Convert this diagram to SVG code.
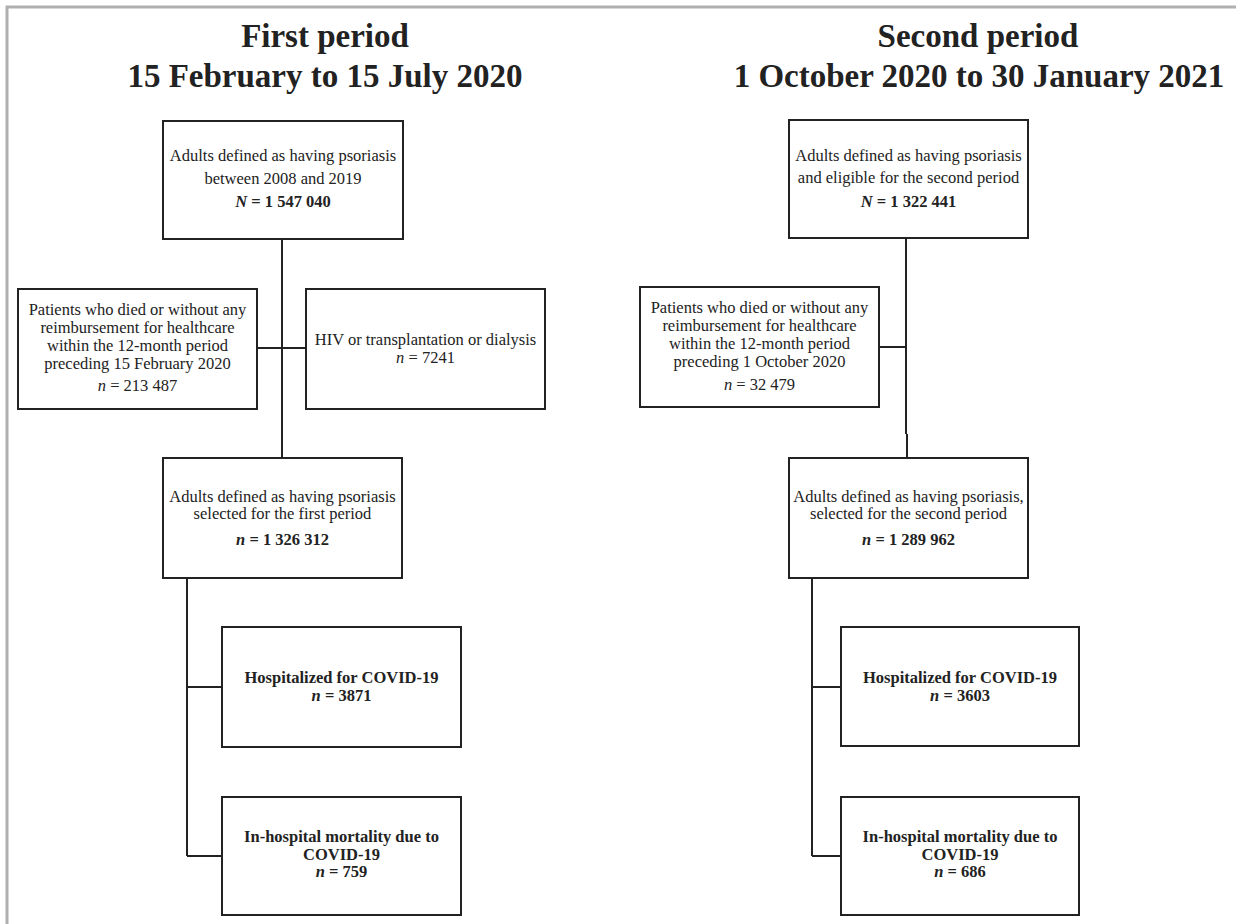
<svg xmlns="http://www.w3.org/2000/svg" width="1236" height="924" viewBox="0 0 1236 924">
<style>
.box{fill:#fff;stroke:#222;stroke-width:2}
.t{font-family:"Liberation Serif","Times New Roman",serif;font-size:16.5px;fill:#222;text-anchor:middle}
.b{font-weight:bold}
.i{font-style:italic}
.title{font-family:"Liberation Serif","Times New Roman",serif;font-size:33px;font-weight:bold;fill:#222;text-anchor:middle}
.conn{fill:none;stroke:#222;stroke-width:2}
.frame{fill:none;stroke:#b0b0b0;stroke-width:3}
</style>
<rect width="1236" height="924" fill="#fff"/>
<path class="frame" d="M7,924 V7 H1236"/>
<g id="titles">
<text class="title" x="325" y="47">First period</text>
<text class="title" x="325" y="87">15 February to 15 July 2020</text>
<text class="title" x="978" y="47">Second period</text>
<text class="title" x="979" y="87">1 October 2020 to 30 January 2021</text>
</g>
<g id="connectors">
<path class="conn" d="M282,239 V458 M257,348 H306"/>
<path class="conn" d="M187,578 V856 M187,687 H222 M187,856 H222"/>
<path class="conn" d="M906,238 V434 M907,434 V458 M879,347 H906"/>
<path class="conn" d="M812,578 V856 M812,687 H841 M812,856 H841"/>
</g>
<g id="n1">
<rect class="box" x="163" y="121" width="240" height="118"/>
<text class="t" x="283" y="161">Adults defined as having psoriasis</text>
<text class="t" x="283" y="184">between 2008 and 2019</text>
<text class="t b" x="283" y="207"><tspan class="i">N</tspan> = 1 547 040</text>
</g>
<g id="n2">
<rect class="box" x="18" y="289" width="239" height="120"/>
<text class="t" x="137.5" y="315">Patients who died or without any</text>
<text class="t" x="137.5" y="333">reimbursement for healthcare</text>
<text class="t" x="137.5" y="351">within the 12-month period</text>
<text class="t" x="137.5" y="369">preceding 15 February 2020</text>
<text class="t" x="137.5" y="391"><tspan class="i">n</tspan> = 213 487</text>
</g>
<g id="n3">
<rect class="box" x="306" y="289" width="239" height="120"/>
<text class="t" x="425.5" y="345">HIV or transplantation or dialysis</text>
<text class="t" x="425.5" y="363"><tspan class="i">n</tspan> = 7241</text>
</g>
<g id="n4">
<rect class="box" x="163" y="458" width="239" height="120"/>
<text class="t" x="282.5" y="502">Adults defined as having psoriasis</text>
<text class="t" x="282.5" y="519">selected for the first period</text>
<text class="t b" x="282.5" y="545"><tspan class="i">n</tspan> = 1 326 312</text>
</g>
<g id="n5">
<rect class="box" x="222" y="627" width="239" height="120"/>
<text class="t b" x="341.5" y="683">Hospitalized for COVID-19</text>
<text class="t b" x="341.5" y="701"><tspan class="i">n</tspan> = 3871</text>
</g>
<g id="n6">
<rect class="box" x="222" y="797" width="239" height="118"/>
<text class="t b" x="341.5" y="842">In-hospital mortality due to</text>
<text class="t b" x="341.5" y="860">COVID-19</text>
<text class="t b" x="341.5" y="877"><tspan class="i">n</tspan> = 759</text>
</g>
<g id="m1">
<rect class="box" x="789" y="120" width="239" height="118"/>
<text class="t" x="908.5" y="161">Adults defined as having psoriasis</text>
<text class="t" x="908.5" y="183">and eligible for the second period</text>
<text class="t b" x="908.5" y="207"><tspan class="i">N</tspan> = 1 322 441</text>
</g>
<g id="m2">
<rect class="box" x="640" y="287" width="239" height="120"/>
<text class="t" x="759.5" y="313">Patients who died or without any</text>
<text class="t" x="759.5" y="331">reimbursement for healthcare</text>
<text class="t" x="759.5" y="349">within the 12-month period</text>
<text class="t" x="759.5" y="367">preceding 1 October 2020</text>
<text class="t" x="759.5" y="390"><tspan class="i">n</tspan> = 32 479</text>
</g>
<g id="m4">
<rect class="box" x="789" y="458" width="239" height="120"/>
<text class="t" x="908.5" y="502">Adults defined as having psoriasis,</text>
<text class="t" x="908.5" y="519">selected for the second period</text>
<text class="t b" x="908.5" y="545"><tspan class="i">n</tspan> = 1 289 962</text>
</g>
<g id="m5">
<rect class="box" x="841" y="627" width="238" height="119"/>
<text class="t b" x="960" y="683">Hospitalized for COVID-19</text>
<text class="t b" x="960" y="701"><tspan class="i">n</tspan> = 3603</text>
</g>
<g id="m6">
<rect class="box" x="841" y="797" width="238" height="118"/>
<text class="t b" x="960" y="842">In-hospital mortality due to</text>
<text class="t b" x="960" y="860">COVID-19</text>
<text class="t b" x="960" y="877"><tspan class="i">n</tspan> = 686</text>
</g>
</svg>
